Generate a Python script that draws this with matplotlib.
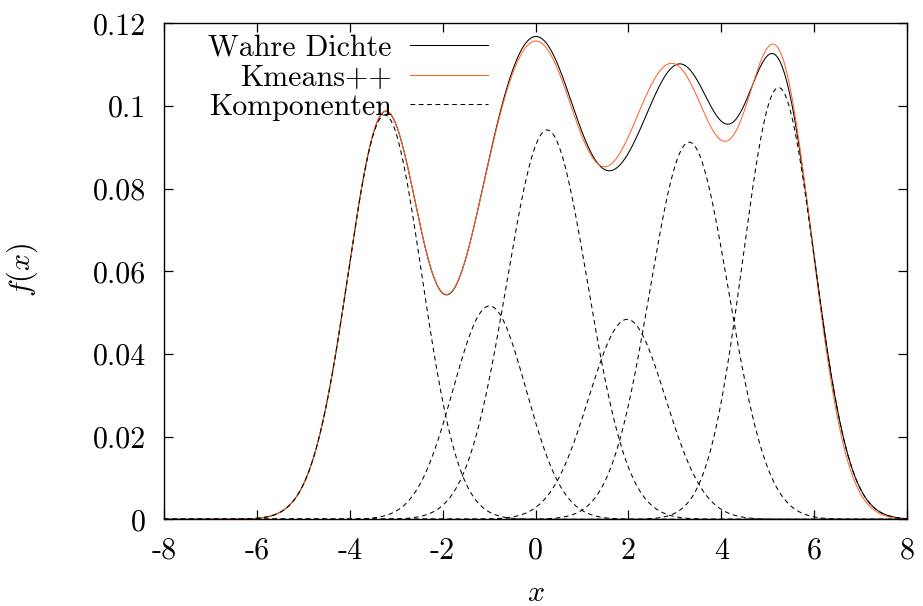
import numpy as np
import matplotlib
matplotlib.use("Agg")
import matplotlib.pyplot as plt

# Gaussian mixture: true density and its six components
true_means = [-3.243, -0.989, 0.251, 1.972, 3.310, 5.234]
true_sigmas = [0.793, 0.789, 0.872, 0.828, 0.847, 0.765]
true_weights = [0.1944, 0.1021, 0.2059, 0.1004, 0.1937, 0.2003]

# Mixture estimated with k-means++ initialisation
km_means = [-3.243, -0.989, 0.285, 1.894, 3.105, 5.247]
km_sigmas = [0.793, 0.789, 0.887, 0.728, 0.977, 0.736]
km_weights = [0.1944, 0.1021, 0.2123, 0.0451, 0.2476, 0.1927]

labels = ['Wahre Dichte', 'Kmeans++', 'Komponenten']
x_ticks = [-8, -6, -4, -2, 0, 2, 4, 6, 8]
y_ticks = [0, 0.02, 0.04, 0.06, 0.08, 0.1, 0.12]
y_tick_labels = ['0', '0.02', '0.04', '0.06', '0.08', '0.1', '0.12']


def normal_pdf(x, m, s, w):
    return w * np.exp(-(x - m) ** 2 / (2 * s ** 2)) / (s * np.sqrt(2 * np.pi))


def mixture(x, means, sigmas, weights):
    return sum(normal_pdf(x, m, s, w) for m, s, w in zip(means, sigmas, weights))


plt.rcParams['font.family'] = 'serif'
plt.rcParams['font.serif'] = ['cmr10']
plt.rcParams['mathtext.fontset'] = 'cm'
plt.rcParams['axes.unicode_minus'] = False
plt.rcParams['axes.formatter.use_mathtext'] = False

FS = 21.6
fig = plt.figure(figsize=(9.23, 6.06), dpi=100)
ax = fig.add_axes([164 / 923, 1 - 519.3 / 606, 743 / 923, 496 / 606])

x = np.linspace(-8, 8, 1600)
ax.plot(x, mixture(x, true_means, true_sigmas, true_weights), color='black', lw=0.75, label=labels[0])
ax.plot(x, mixture(x, km_means, km_sigmas, km_weights), color='#ff6428', lw=0.75, label=labels[1])
for i, (m, s, w) in enumerate(zip(true_means, true_sigmas, true_weights)):
    ax.plot(x, normal_pdf(x, m, s, w), color='black', lw=0.75, ls=(0, (4.5, 3.5)),
            label=labels[2] if i == 0 else None)

ax.set_xlim(-8, 8)
ax.set_ylim(0, 0.12)
ax.set_xticks(x_ticks)
ax.set_yticks(y_ticks)
ax.set_yticklabels(y_tick_labels)
ax.tick_params(direction='in', length=6.5, width=0.9, top=True, right=True, labelsize=FS, pad=13)
for sp in ax.spines.values():
    sp.set_linewidth(1.0)

ax.set_xlabel(r'$x$', fontsize=FS)
ax.set_ylabel(r'$f(x)$', fontsize=FS)
ax.xaxis.set_label_coords(0.5, -0.122)
ax.yaxis.set_label_coords(-0.167, 0.503)

ax.legend(loc='upper right', bbox_to_anchor=(0.436, 0.978), markerfirst=False, frameon=False,
          fontsize=FS, handlelength=2.6, handletextpad=0.6, labelspacing=0.07,
          borderpad=0, borderaxespad=0)

fig.savefig('out.png', dpi=100)
